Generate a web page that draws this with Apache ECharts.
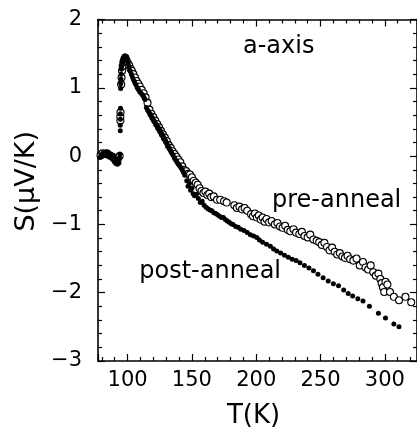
<!DOCTYPE html>
<html><head><meta charset="utf-8">
<script src="https://cdn.jsdelivr.net/npm/echarts@6/dist/echarts.min.js"></script>
<style>html,body{margin:0;padding:0;background:#fff}#c{width:417px;height:434px}</style>
</head><body><div id="c"></div>
<script>
// ---- data ----
const xTickLabels = [100, 150, 200, 250, 300];
const yTickLabels = [-3, -2, -1, 0, 1, 2];

const postT = [78.5,79.5,80.5,81.5,82.3,83.0,83.8,84.6,85.4,86.2,87.0,87.8,88.5,89.1,89.7,90.3,90.9,91.5,92.1,92.7,93.3,93.7,94.0,
 94.3,94.3,94.4,94.4,94.5,94.6,94.7,94.8,95.0,95.2,95.5,95.9,96.3,96.8,97.3,97.9,98.5,99.1,99.8,100.5,101.3,102.1,103.0,103.9,104.8,105.7,106.6,107.5,108.5,109.5,110.5,111.5,112.3,113.0,113.6,
 114.6,115.5,116.5,117.5,118.5,119.5,120.5,121.5,122.5,123.5,124.5,125.5,126.5,127.5,128.5,129.5,130.5,131.5,132.5,133.5,134.5,135.5,136.5,137.5,138.5,139.5,140.5,141.5,142.5,143.5,144.5,
 146.0,147.0,148.0,149.0,150.0,151.0,152.0,153.5,155.0,156.5,158.0,159.5,161.0,162.5,164.0,165.5,167.0,168.5,170.0,171.5,173.0,174.5,176.0,177.5,179.0,180.5,182.0,184.0,186.0,188.0,190.5,193.0,195.5,198.0,200.5,202.5,
 205.0,208.0,211.0,213.5,216.0,219.0,222.0,225.0,228.0,231.0,234.0,237.5,241.0,244.5,248.0,252.0,256.0,260.0,264.0,268.0,271.5,275.0,279.0,283.0,288.0,295.0,300.5,307.0,311.0];
const postS = [-0.02,0.02,0.00,0.04,0.01,0.06,0.02,0.05,0.00,0.03,-0.02,0.02,-0.05,0.01,-0.08,-0.04,-0.11,-0.06,-0.12,-0.07,-0.10,-0.02,0.03,
 0.37,0.45,0.54,0.62,0.70,0.99,1.06,1.13,1.20,1.27,1.32,1.37,1.40,1.43,1.46,1.47,1.45,1.42,1.39,1.35,1.30,1.25,1.20,1.15,1.11,1.07,1.04,1.00,0.97,0.94,0.92,0.90,0.88,0.85,0.83,
 0.71,0.68,0.65,0.62,0.59,0.55,0.52,0.49,0.46,0.43,0.40,0.37,0.33,0.30,0.26,0.23,0.19,0.15,0.12,0.08,0.04,0.01,-0.03,-0.06,-0.09,-0.12,-0.14,-0.17,-0.20,-0.24,-0.28,
 -0.36,-0.44,-0.40,-0.50,-0.47,-0.55,-0.58,-0.56,-0.62,-0.68,-0.66,-0.72,-0.75,-0.77,-0.79,-0.80,-0.83,-0.84,-0.86,-0.88,-0.90,-0.90,-0.93,-0.95,-0.97,-0.99,-1.00,-1.03,-1.04,-1.07,-1.09,-1.12,-1.15,-1.17,-1.19,-1.23,
 -1.26,-1.29,-1.32,-1.36,-1.39,-1.42,-1.45,-1.48,-1.51,-1.53,-1.56,-1.60,-1.64,-1.68,-1.73,-1.78,-1.83,-1.87,-1.90,-1.96,-2.01,-2.05,-2.09,-2.12,-2.20,-2.30,-2.37,-2.46,-2.50];

const preT = [79.0,80.5,82.0,84.0,86.0,88.0,89.5,91.0,92.5,93.8,
 94.4,94.4,94.5,95.0,95.3,95.7,96.2,96.8,97.5,98.3,99.2,100.2,101.2,102.3,103.3,104.5,105.8,107.0,108.3,109.5,111.0,112.5,114.0,115.5,117.0,118.5,120.0,121.5,123.0,124.5,126.0,127.5,129.0,130.5,132.0,133.5,135.0,136.5,138.0,139.5,141.0,142.5,144.0,145.5,147.0,148.5,150.0,151.5,153.0,154.5,156.0,157.5,159.0,160.5,162.0,163.5,165.0,167.0,169.5,172.0,175.0,177.0,183.0,185.0,187.0,189.0,191.0,193.0,196.0,197.5,199.0,200.5,202.0,203.5,205.0,206.5,208.0,210.0,212.0,214.5,216.5,218.5,220.5,222.5,224.5,226.5,229.0,231.0,233.5,235.5,237.5,240.0,242.0,244.5,247.0,249.0,251.0,253.0,255.0,257.0,259.0,261.0,263.0,265.0,267.0,269.0,271.0,273.0,275.5,278.0,280.5,283.0,285.0,287.0,289.0,291.0,293.0,295.0,296.5,297.5,298.5,299.5,300.5,302.0,304.0,307.0,311.0,316.0,320.5];
const preS = [0.01,0.04,0.03,0.04,0.01,-0.01,-0.03,-0.07,-0.04,0.00,
 0.52,0.58,0.64,1.05,1.15,1.25,1.32,1.38,1.42,1.44,1.40,1.36,1.33,1.28,1.25,1.20,1.15,1.10,1.06,1.02,0.97,0.92,0.86,0.78,0.68,0.62,0.57,0.52,0.47,0.42,0.37,0.32,0.27,0.22,0.16,0.12,0.07,0.03,-0.01,-0.05,-0.09,-0.15,-0.20,-0.22,-0.26,-0.27,-0.31,-0.36,-0.39,-0.42,-0.47,-0.51,-0.54,-0.52,-0.57,-0.55,-0.60,-0.59,-0.64,-0.64,-0.66,-0.68,-0.72,-0.76,-0.74,-0.78,-0.76,-0.80,-0.85,-0.88,-0.84,-0.90,-0.87,-0.93,-0.90,-0.96,-0.92,-0.97,-0.95,-1.00,-0.98,-1.03,-1.05,-1.02,-1.08,-1.10,-1.07,-1.12,-1.14,-1.11,-1.17,-1.19,-1.15,-1.22,-1.24,-1.26,-1.30,-1.27,-1.33,-1.38,-1.34,-1.40,-1.44,-1.42,-1.47,-1.49,-1.46,-1.51,-1.53,-1.50,-1.60,-1.55,-1.63,-1.66,-1.60,-1.70,-1.75,-1.72,-1.80,-1.86,-1.92,-1.99,-1.84,-1.88,-1.99,-2.06,-2.11,-2.06,-2.14];

// ---- chart ----
const FONT = 'DejaVu Sans';
const chart = echarts.init(document.getElementById('c'), null, {renderer: 'canvas'});
const zip = (a, b) => a.map((v, i) => [v, b[i]]);
const minus = v => String(v).replace('-', '\u2212');
const axisLine = {show: true, onZero: false, lineStyle: {color: '#000', width: 1.6}};
const tick = {show: true, inside: true, length: 7, lineStyle: {color: '#000', width: 1.2}};
const minor = {show: true, splitNumber: 5, length: 4, lineStyle: {color: '#000', width: 1.2}};
const X = {min: 77, max: 325, splitNumber: 5};
const Y = {min: -3, max: 2, interval: 1};

chart.setOption({
  animation: false,
  backgroundColor: '#fff',
  grid: {left: 98, top: 19.5, width: 322, height: 345.5},
  xAxis: [
    Object.assign({type: 'value', position: 'bottom', axisLine, axisTick: tick, minorTick: minor,
      splitLine: {show: false},
      axisLabel: {show: true, showMinLabel: false, showMaxLabel: false, margin: 9, color: '#000',
        fontFamily: FONT, fontSize: 21,
        formatter: v => xTickLabels.includes(v) ? String(v) : ''},
      name: 'T(K)', nameLocation: 'middle', nameGap: 42,
      nameTextStyle: {fontFamily: FONT, fontSize: 26, color: '#000', padding: [0, 8, 0, 0]}}, X),
    Object.assign({type: 'value', position: 'top', axisLine, axisTick: tick, minorTick: minor,
      splitLine: {show: false}, axisLabel: {show: false}}, X)
  ],
  yAxis: [
    Object.assign({type: 'value', position: 'left', axisLine, axisTick: tick, minorTick: minor,
      splitLine: {show: false},
      axisLabel: {show: true, margin: 16, color: '#000', fontFamily: FONT, fontSize: 21,
        formatter: v => yTickLabels.includes(v) ? minus(v) : ''},
      name: 'S(μV/K)', nameLocation: 'middle', nameGap: 56,
      nameTextStyle: {fontFamily: FONT, fontSize: 27, color: '#000', padding: [0, 0, 0, 18]}}, Y),
    Object.assign({type: 'value', position: 'right', axisLine, axisTick: tick, minorTick: minor,
      splitLine: {show: false}, axisLabel: {show: false}}, Y)
  ],
  series: [
    {name: 'pre-anneal', type: 'scatter', data: zip(preT, preS), symbol: 'circle', symbolSize: 7,
      itemStyle: {color: '#fff', borderColor: '#000', borderWidth: 1.1, opacity: 1}},
    {name: 'post-anneal', type: 'scatter', data: zip(postT, postS), symbol: 'circle', symbolSize: 5,
      itemStyle: {color: '#000', opacity: 1}}
  ],
  graphic: [
    {type: 'text', x: 243, y: 47, style: {text: 'a-axis', fill: '#000', font: '24px "DejaVu Sans"', align: 'left', verticalAlign: 'middle'}},
    {type: 'text', x: 272, y: 201, style: {text: 'pre-anneal', fill: '#000', font: '24px "DejaVu Sans"', align: 'left', verticalAlign: 'middle'}},
    {type: 'text', x: 281, y: 272, style: {text: 'post-anneal', fill: '#000', font: '24px "DejaVu Sans"', align: 'right', verticalAlign: 'middle'}}
  ]
});
</script>
</body></html>
